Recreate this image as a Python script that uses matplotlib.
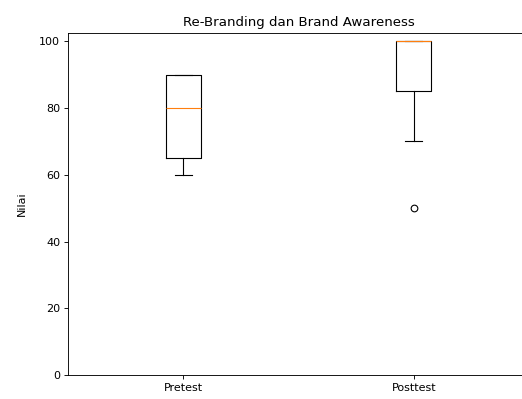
import matplotlib
matplotlib.use("Agg")
import matplotlib.pyplot as plt

# skor tiap responden
pretest = [60, 65, 65, 75, 80, 85, 90, 90, 90]
posttest = [50, 70, 85, 90, 100, 100, 100, 100, 100]
labels = ["Pretest", "Posttest"]

W, H, DPI = 522, 399, 80
fig = plt.figure(figsize=(W / DPI, H / DPI), dpi=DPI)
# gambar asli terpotong di kanan, spine kanan tidak kelihatan
ax = fig.add_axes([68 / W, (H - 375) / H, (529 - 68) / W, (375 - 33) / H])

ax.boxplot([pretest, posttest], tick_labels=labels)
ax.set_ylim(bottom=0)
ax.set_title("Re-Branding dan Brand Awareness")
ax.set_ylabel("Nilai", labelpad=11)

fig.savefig("out.png", dpi=DPI)
